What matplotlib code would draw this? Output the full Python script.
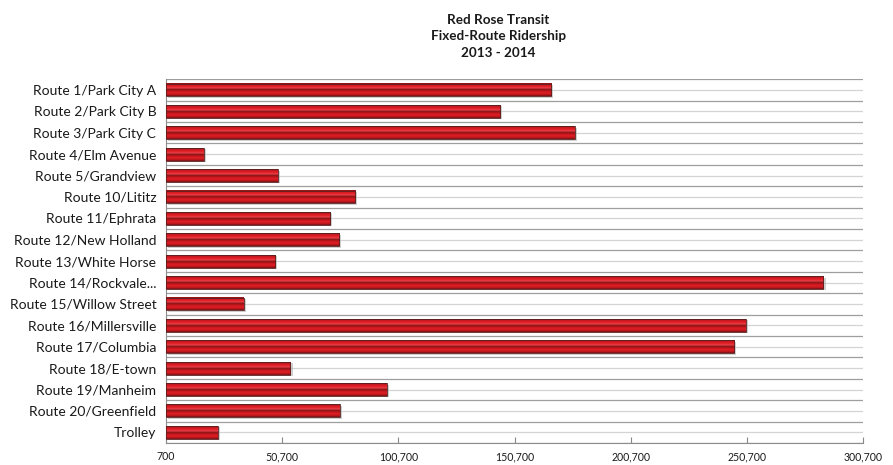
import numpy as np
import matplotlib
matplotlib.use('Agg')
import matplotlib.pyplot as plt
from matplotlib.colors import LinearSegmentedColormap
from matplotlib.ticker import FuncFormatter

# Route names and ridership
routes = ['Route 1/Park City A', 'Route 2/Park City B', 'Route 3/Park City C',
          'Route 4/Elm Avenue', 'Route 5/Grandview', 'Route 10/Lititz',
          'Route 11/Ephrata', 'Route 12/New Holland', 'Route 13/White Horse',
          'Route 14/Rockvale...', 'Route 15/Willow Street', 'Route 16/Millersville',
          'Route 17/Columbia', 'Route 18/E-town', 'Route 19/Manheim',
          'Route 20/Greenfield', 'Trolley']
riders = [166500, 144600, 176600, 16900, 48700, 82100, 71450, 75200, 47700,
          283700, 34100, 250300, 245200, 54250, 95750, 75400, 23000]

x_min = 700
x_max = 300700
x_ticks = [700, 50700, 100700, 150700, 200700, 250700, 300700]

plt.rcParams['font.family'] = ['Lato', 'DejaVu Sans']

fig = plt.figure(figsize=(8.93, 4.65), dpi=100)
ax = fig.add_axes([0.1859, 0.0473, 0.7805, 0.7822])

# cylinder-like shading for the bars, top to bottom
bar_cmap = LinearSegmentedColormap.from_list('cyl', [
    (0.00, '#7a1616'), (0.10, '#c81a20'), (0.25, '#e41e26'), (0.38, '#e84048'),
    (0.50, '#7a1212'), (0.58, '#b81418'), (0.75, '#e01e26'), (0.90, '#c0161c'),
    (1.00, '#701414')])
grad = np.linspace(0, 1, 64).reshape(-1, 1)

bar_h = 0.6
ypos = np.arange(len(routes))
for y, v in zip(ypos, riders):
    # soft shadow
    ax.barh(y + 0.07, v - x_min, left=x_min + 900, height=bar_h,
            color='#a8a8a8', alpha=0.55, zorder=2, linewidth=0)
    ax.imshow(grad, cmap=bar_cmap, aspect='auto', zorder=3,
              extent=[x_min, v, y + bar_h / 2, y - bar_h / 2],
              interpolation='bilinear')
    ax.barh(y, v - x_min, left=x_min, height=bar_h, fill=False,
            edgecolor='#5a2020', linewidth=0.6, zorder=4)

ax.set_xlim(x_min, x_max)
ax.set_ylim(len(routes) - 0.5, -0.5)

ax.set_yticks(ypos)
ax.set_yticklabels(routes, fontsize=10, color='#1a1a1a')
ax.set_yticks(ypos + 0.5, minor=True)
ax.tick_params(axis='y', which='both', length=0, pad=7)

ax.set_xticks(x_ticks)
ax.xaxis.set_major_formatter(FuncFormatter(lambda v, p: f'{int(v):,}'))
ax.tick_params(axis='x', direction='in', length=4, color='#888888',
               labelsize=7.6, pad=6, labelcolor='#1a1a1a')

ax.grid(axis='y', which='major', color='#d4d4d4', linewidth=0.9)
ax.grid(axis='y', which='minor', color='#9e9e9e', linewidth=0.9)
ax.axhline(-0.5, color='#9e9e9e', linewidth=0.9, zorder=1)
ax.set_axisbelow(True)

for s in ['top', 'right']:
    ax.spines[s].set_visible(False)
ax.spines['left'].set_color('#8c8c8c')
ax.spines['bottom'].set_color('#8c8c8c')

fig.text(0.558, 0.97, 'Red Rose Transit\nFixed-Route Ridership\n2013 - 2014',
         ha='center', va='top', fontsize=9.7, fontweight='bold',
         linespacing=1.45, color='#1a1a1a')

fig.savefig('out.png', dpi=100)
